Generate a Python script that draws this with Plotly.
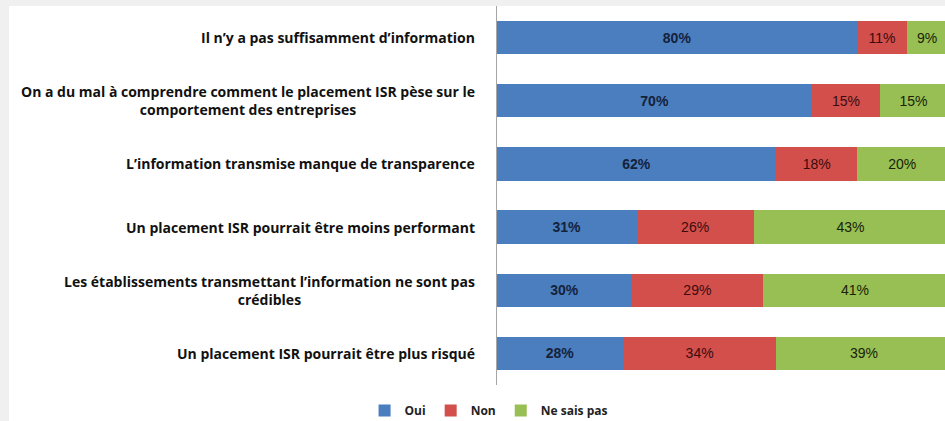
import plotly.graph_objects as go

categories = [
    "Il n’y a pas suffisamment d’information",
    "On a du mal à comprendre comment le placement ISR pèse sur le<br>comportement des entreprises",
    "L’information transmise manque de transparence",
    "Un placement ISR pourrait être moins performant",
    "Les établissements transmettant l’information ne sont pas<br>crédibles",
    "Un placement ISR pourrait être plus risqué",
]
oui = [80, 70, 62, 31, 30, 28]
non = [11, 15, 18, 26, 29, 34]
nsp = [9, 15, 20, 43, 41, 39]

series = [
    ("Oui", oui, "#4a7ebf", "#14223a", True),
    ("Non", non, "#d24f4c", "#3a0c0c", False),
    ("Ne sais pas", nsp, "#97bf53", "#1a2208", False),
]

fig = go.Figure()
for name, vals, color, tcolor, bold in series:
    fig.add_trace(go.Bar(
        name=name,
        y=categories,
        x=vals,
        orientation="h",
        marker=dict(color=color, line=dict(width=0)),
        text=[f"{v}%" for v in vals],
        textposition="inside",
        insidetextanchor="middle",
        textangle=0,
        constraintext="none",
        textfont=dict(family="Liberation Sans", size=14, color=tcolor,
                      weight="bold" if bold else "normal"),
        hoverinfo="skip",
    ))

# category labels: centred multi-line text, anchored on the category axis
for cat in categories:
    fig.add_annotation(
        x=0, xref="paper", xanchor="right", xshift=-20,
        y=cat, yref="y", yanchor="middle",
        text=cat, showarrow=False, align="center",
        font=dict(family="Open Sans", size=14, color="#111111", weight="bold"),
    )

fig.update_layout(
    width=945,
    height=421,
    barmode="stack",
    bargap=0.47,
    margin=dict(l=497, r=0, t=6, b=36),
    paper_bgcolor="#f0f0f0",
    plot_bgcolor="rgba(0,0,0,0)",
    showlegend=True,
    legend=dict(
        orientation="h",
        xref="container", x=0.517, xanchor="center",
        yref="container", y=0.025, yanchor="middle",
        font=dict(family="Open Sans", size=12, color="#222222", weight="bold"),
        itemwidth=30,
        traceorder="normal",
        bgcolor="rgba(0,0,0,0)",
    ),
    xaxis=dict(
        range=[0, 99.5],
        showgrid=False,
        zeroline=False,
        showticklabels=False,
        showline=False,
        fixedrange=True,
    ),
    yaxis=dict(
        autorange="reversed",
        showgrid=False,
        showline=True,
        linecolor="#a6a6a6",
        linewidth=1,
        ticks="",
        showticklabels=False,
    ),
    shapes=[
        dict(type="rect", xref="paper", yref="paper",
             x0=(9 - 497) / 448, x1=1.05, y0=-0.2, y1=1.0,
             fillcolor="white", line=dict(width=0), layer="below"),
    ],
)

fig.write_html(
    "out.html",
    config={"displayModeBar": False},
    post_script="document.body.style.margin='0';document.body.style.overflow='hidden';",
)
